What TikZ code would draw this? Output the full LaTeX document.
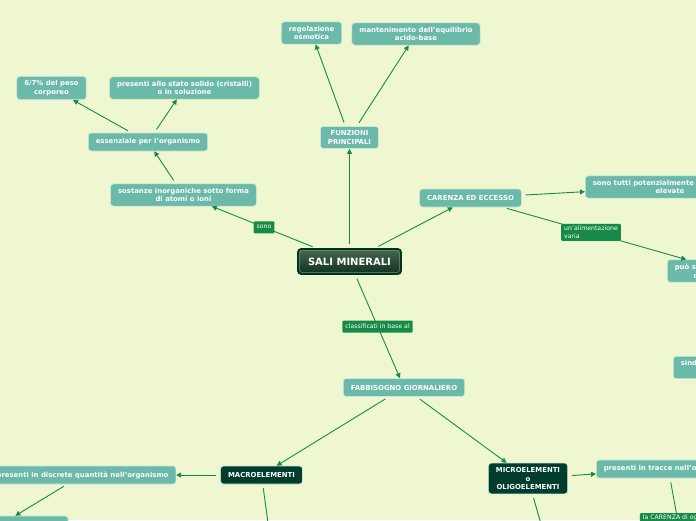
\documentclass[tikz,border=0pt]{standalone}
\usepackage{fontspec}
\setmainfont{DejaVu Sans}
\usepackage{xcolor}
\usetikzlibrary{arrows.meta}

\definecolor{paper}{RGB}{238,247,208}
\definecolor{topicfill}{RGB}{107,185,168}
\definecolor{topicline}{RGB}{205,232,215}
\definecolor{darkfill}{RGB}{0,61,44}
\definecolor{lblfill}{RGB}{22,138,70}
\definecolor{linkgreen}{RGB}{27,138,70}
\definecolor{rootline}{RGB}{0,52,32}
\definecolor{roottop}{RGB}{72,104,78}
\definecolor{rootbottom}{RGB}{14,50,30}
\definecolor{rootinner}{RGB}{110,150,118}

\begin{document}
\begin{tikzpicture}[
  x=1pt, y=-1pt,
  font=\fontsize{6.9}{8.8}\selectfont\bfseries,
  topic/.style={rectangle, rounded corners=3pt, fill=topicfill, draw=topicline, line width=0.6pt,
    text=white, align=center, inner xsep=7.5pt, inner ysep=4pt, minimum height=18pt},
  dark/.style={topic, fill=darkfill, draw=topicline},
  root/.style={rectangle, rounded corners=3pt, top color=roottop, bottom color=rootbottom,
    draw=rootline, line width=1.6pt, text=white, font=\fontsize{10}{12}\selectfont\bfseries,
    minimum width=103pt, minimum height=25pt},
  lbl/.style={rectangle, rounded corners=1pt, fill=lblfill, text=white, align=left,
    font=\fontsize{6.2}{8}\selectfont, inner xsep=3pt, inner ysep=2pt, minimum height=12pt},
  arr/.style={-{Triangle[length=5pt,width=5pt]}, draw=linkgreen, line width=0.9pt, shorten <=4pt}
]
\useasboundingbox (0,0) rectangle (696,520);
\fill[paper] (0,0) rectangle (696,520);
\begin{scope}
\clip (0,0) rectangle (696,520);
% central topic
\node[root] (sali) at (349.5,261.5) {SALI MINERALI};
\draw[rootinner, rounded corners=2pt, line width=0.5pt]
  ([shift={(2.5,2.5)}]sali.north west) rectangle ([shift={(-2.5,-2.5)}]sali.south east);
% upper branches
\node[topic] (funz) at (349.5,137.5) {FUNZIONI\\PRINCIPALI};
\node[topic] (regol) at (311.5,33) {regolazione\\osmotica};
\node[topic] (mant) at (416,34) {mantenimento dell'equilibrio\\acido-base};
\node[topic] (sost) at (183.5,195) {sostanze inorganiche sotto forma\\di atomi o ioni};
\node[topic] (ess) at (148,142) {essenziale per l'organismo};
\node[topic] (peso) at (51.5,88) {6/7\% del peso\\corporeo};
\node[topic] (solido) at (184.5,88) {presenti allo stato solido (cristalli)\\o in soluzione};
\node[topic] (car) at (470.5,198) {CARENZA ED ECCESSO};
\node[topic, anchor=west] (tossici) at (585,187) {sono tutti potenzialmente tossici a dosi\\elevate};
\node[topic, anchor=west] (puo) at (667,271) {può sopperire alla carenza\\di tutti i minerali};
\node[topic, anchor=west] (sind) at (673,367.5) {sindrome da carenza o da eccesso\\minerale};
% lower branches
\node[topic] (fabb) at (404,387.5) {FABBISOGNO GIORNALIERO};
\node[dark] (macro) at (261.5,475) {MACROELEMENTI};
\node[topic] (discr) at (82.5,475) {presenti in discrete quantità nell'organismo};
\node[topic, minimum width=136pt] (mineral) at (0,525) {};
\node[dark] (micro) at (528,478.5) {MICROELEMENTI\\o\\OLIGOELEMENTI};
\node[topic, anchor=west] (tracce) at (596,469) {presenti in tracce nell'organismo};
\coordinate (macrodown) at (271,545);
\coordinate (microdown) at (547,545);
\coordinate (traccedown) at (686,566);
% connectors
\draw[arr] (sali) -- node[lbl]{sono} (sost);
\draw[arr] (sali) -- (funz);
\draw[arr] (sali) -- (car);
\draw[arr] (sali) -- node[lbl]{classificati in base al} (fabb);
\draw[arr] (funz) -- (regol);
\draw[arr] (funz) -- (mant);
\draw[arr] (sost) -- (ess);
\draw[arr] (ess) -- (peso);
\draw[arr] (ess) -- (solido);
\draw[arr] (car) -- (tossici);
\draw[arr] (car) -- node[lbl, pos=0.48]{un'alimentazione\\varia} (puo);
\draw[arr] (fabb) -- (macro);
\draw[arr] (fabb) -- (micro);
\draw[arr] (macro) -- (discr);
\draw[arr] (discr) -- (mineral);
\draw[arr] (macro) -- (macrodown);
\draw[arr] (micro) -- (microdown);
\draw[arr] (micro) -- (tracce);
\draw[arr] (tracce) -- node[lbl]{la CARENZA di ognuno\\provoca} (traccedown);
\end{scope}
\end{tikzpicture}
\end{document}
